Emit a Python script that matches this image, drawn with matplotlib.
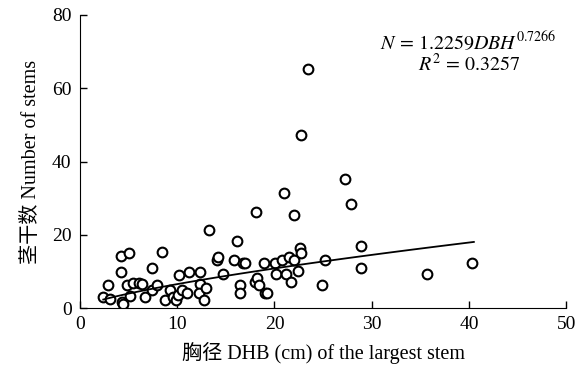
import numpy as np
import matplotlib
matplotlib.use("Agg")
import matplotlib.pyplot as plt

plt.rcParams['font.family'] = ['Liberation Serif', 'Noto Sans CJK SC']
plt.rcParams['mathtext.fontset'] = 'stix'

# DBH (cm) of the largest stem
dbh = [2.4, 3.1, 2.9, 4.2, 5.0, 4.2, 4.3, 4.4, 4.8, 5.1, 5.5, 6.1, 6.4, 6.7,
       7.4, 7.4, 7.9, 8.4, 8.7, 9.3, 9.6, 9.9, 10.1, 10.2, 10.5, 11.0, 11.2,
       12.3, 12.3, 12.2, 12.8, 13.0, 13.3, 14.1, 14.2, 14.7, 15.8, 16.1, 16.5,
       16.5, 16.8, 17.0, 18.1, 18.0, 18.2, 18.4, 18.9, 19.0, 19.2, 20.1, 20.8,
       21.5, 22.0, 20.2, 21.2, 22.4, 21.7, 22.6, 22.7, 21.0, 22.0, 22.7, 23.5,
       25.2, 24.9, 27.3, 27.9, 28.9, 28.9, 35.7, 40.3]
# number of stems
stems = [3.1, 2.4, 6.3, 14.2, 15.1, 9.9, 1.7, 1.0, 6.3, 3.3, 6.9, 6.9, 6.6, 3.1,
         10.8, 4.9, 6.3, 15.2, 2.2, 4.9, 3.1, 2.2, 3.6, 9.1, 4.9, 4.0, 9.9,
         9.9, 6.7, 4.0, 2.2, 5.4, 21.4, 13.1, 14.0, 9.2, 13.1, 18.3, 6.3,
         4.0, 12.4, 12.3, 26.2, 7.2, 8.1, 6.3, 12.2, 4.0, 4.1, 12.2, 13.1,
         14.0, 13.0, 9.3, 9.3, 10.0, 7.0, 16.3, 15.1, 31.3, 25.3, 47.3, 65.3,
         13.1, 6.2, 35.3, 28.3, 17.0, 11.0, 9.2, 12.2]

# fitted power model N = a * DBH^b
a, b = 1.2259, 0.7266
fit_range = (2.4, 40.5)

fig = plt.figure(figsize=(5.79, 3.65), dpi=100)
ax = fig.add_axes([0.138, 0.156, 0.840, 0.803])

ax.plot(dbh, stems, linestyle='none', marker='o', markersize=7,
        markerfacecolor='white', markeredgecolor='black', markeredgewidth=1.5)

xf = np.linspace(fit_range[0], fit_range[1], 100)
ax.plot(xf, a * xf ** b, color='black', linewidth=1.3)

ax.set_xlim(0, 50)
ax.set_ylim(0, 80)
ax.set_xticks(np.arange(0, 51, 10))
ax.set_yticks(np.arange(0, 81, 20))
ax.tick_params(direction='in', length=5, width=1, labelsize=14)
ax.tick_params(axis='y', pad=6)
ax.tick_params(axis='x', pad=6)
ax.spines['top'].set_visible(False)
ax.spines['right'].set_visible(False)

ax.set_xlabel('胸径 DHB (cm) of the largest stem', fontsize=14.5, labelpad=6)
ax.set_ylabel('茎干数 Number of stems', fontsize=14.5, labelpad=8)

ax.text(0.798, 0.904, r'$N\/=\/1.2259DBH^{0.7266}$', transform=ax.transAxes,
        ha='center', va='center', fontsize=14.4)
ax.text(0.801, 0.829, r'$R^2\/=\/0.3257$', transform=ax.transAxes,
        ha='center', va='center', fontsize=14.4)

fig.savefig('out.png', dpi=100)
